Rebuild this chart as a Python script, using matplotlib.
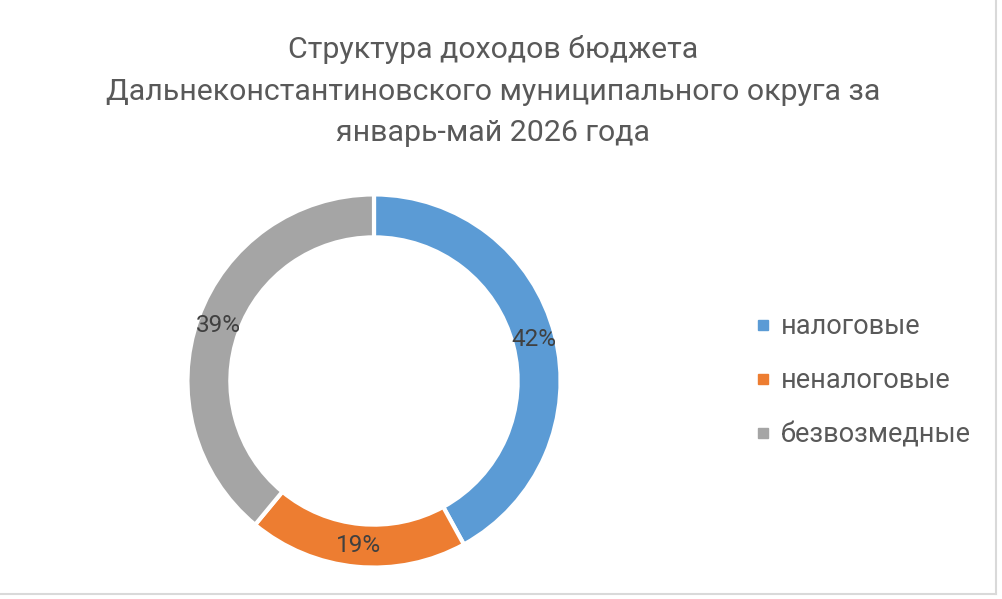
import numpy as np
import matplotlib.pyplot as plt
from matplotlib.lines import Line2D

plt.rcParams['font.family'] = ['Roboto', 'DejaVu Sans']

labels = ['налоговые', 'неналоговые', 'безвозмедные']
shares = [42, 19, 39]
colors = ['#5B9BD5', '#ED7D31', '#A5A5A5']
title = 'Структура доходов бюджета\nДальнеконстантиновского муниципального округа за\nянварь-май 2026 года'

fig = plt.figure(figsize=(10.03, 5.99), dpi=100)
fig.patch.set_facecolor('white')

# donut
w = 0.372
h = w * 1003 / 599
ax = fig.add_axes([374/1003 - w/2, 1 - 381/599 - h/2, w, h])
wedges, texts = ax.pie(shares, colors=colors, startangle=90, counterclock=False,
                       radius=1.0,
                       wedgeprops=dict(width=0.23, edgecolor='white', linewidth=3))
ax.set_aspect('equal')
ax.set_xlim(-1.0, 1.0)
ax.set_ylim(-1.0, 1.0)

# percent labels on the ring
start = 90.0
for s in shares:
    mid = np.deg2rad(start - s / 2 * 3.6)
    r = 0.885
    ax.text(r * np.cos(mid), r * np.sin(mid), f'{s}%', ha='center', va='center',
            fontsize=17.5, color='#404040')
    start -= s * 3.6

fig.text(493/1003, 1 - 91/599, title, ha='center', va='center', fontsize=21.8,
         color='#595959', linespacing=1.62)

handles = [Line2D([0], [0], marker='s', linestyle='none', markersize=6.5,
                  markerfacecolor=c, markeredgecolor=c) for c in colors]
leg = fig.legend(handles, labels, loc='center left', bbox_to_anchor=(728/1003, 1 - 381/599),
                 frameon=False, fontsize=19.5, labelcolor='#595959', handletextpad=0.25,
                 labelspacing=1.0, handlelength=0.8)

# light frame on right and bottom
fig.add_artist(Line2D([996/1003, 996/1003], [1 - 594/599, 1], transform=fig.transFigure,
                      color='#D9D9D9', linewidth=1.5))
fig.add_artist(Line2D([0, 996/1003], [1 - 594/599, 1 - 594/599], transform=fig.transFigure,
                      color='#D9D9D9', linewidth=1.5))

fig.savefig('out.png', dpi=100)
